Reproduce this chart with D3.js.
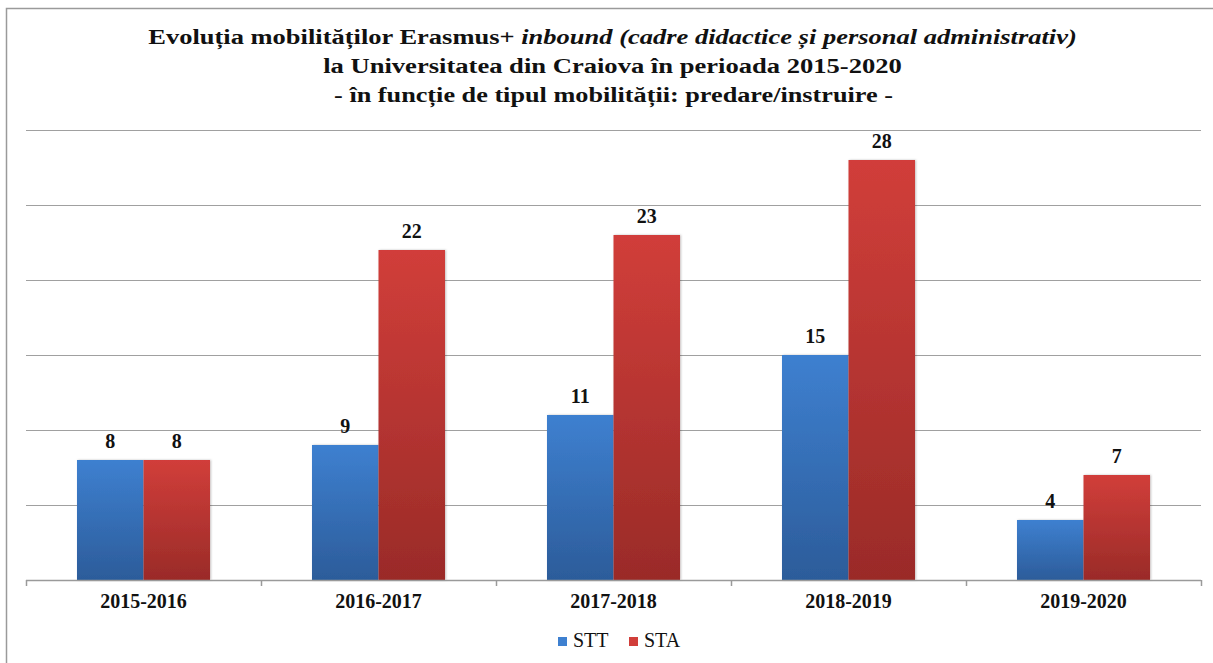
<!DOCTYPE html>
<html>
<head>
<meta charset="utf-8">
<script src="https://cdn.jsdelivr.net/npm/d3@7"></script>
<style>
  body { margin: 0; background: #fff; }
  .main { width: 1213px; height: 663px; }
  svg text { font-family: "Liberation Serif", "Times New Roman", "DejaVu Serif", serif; }
</style>
</head>
<body>
<div class="main"></div>
<script>
// data
const years = ["2015-2016", "2016-2017", "2017-2018", "2018-2019", "2019-2020"]
const series = ["STT", "STA"]
const stt = [8, 9, 11, 15, 4]
const sta = [8, 22, 23, 28, 7]
const yTicks = [0, 5, 10, 15, 20, 25, 30]

const W = 1213, H = 663
const margin = { top: 130, right: 12, bottom: 83, left: 26 }
const width = W - margin.left - margin.right,
    height = H - margin.top - margin.bottom;

const svg = d3.select(".main")
    .append("svg")
    .attr("width", W)
    .attr("height", H)

// gradients for the bars (lighter on top, darker at bottom)
const defs = svg.append("defs")
const grads = { STT: ["#3e80d0", "#2c5c9a"], STA: ["#d13e3a", "#9a2b28"] }
for (let k of series) {
    const g = defs.append("linearGradient")
        .attr("id", "grad-" + k)
        .attr("x1", 0).attr("y1", 0).attr("x2", 0).attr("y2", 1)
    g.append("stop").attr("offset", "0%").attr("stop-color", grads[k][0])
    g.append("stop").attr("offset", "100%").attr("stop-color", grads[k][1])
}
const f = defs.append("filter").attr("id", "shadow").attr("x", "-10%").attr("y", "-10%").attr("width", "130%").attr("height", "130%")
f.append("feDropShadow").attr("dx", 1).attr("dy", 0).attr("stdDeviation", 1).attr("flood-color", "#000").attr("flood-opacity", 0.25)

// frame
svg.append("path")
    .attr("d", `M6.5,${H} V8.5 H${W}`)
    .attr("fill", "none")
    .attr("stroke", "#9a9a9a")
    .attr("stroke-width", 1.5)

// title: three lines, each stretched to the width seen in the reference
const titleLines = [
    { cx: 612.5, y: 44, w: 929 },
    { cx: 612.5, y: 73, w: 579 },
    { cx: 613.5, y: 102, w: 559 }
]
const tl = svg.selectAll(".title")
    .data(titleLines)
    .join("text")
    .attr("class", "title")
    .attr("x", 0)
    .attr("y", 0)
    .attr("text-anchor", "middle")
    .attr("font-weight", "bold")
    .attr("font-size", 22)
    .attr("fill", "#111")
tl.each(function (d, i) {
    const t = d3.select(this)
    if (i === 0) {
        t.append("tspan").text("Evoluția mobilităților Erasmus+ ")
        t.append("tspan").attr("font-style", "italic").text("inbound (cadre didactice și personal administrativ)")
    } else if (i === 1) {
        t.text("la Universitatea din Craiova în perioada 2015-2020")
    } else {
        t.text("- în funcție de tipul mobilității:  predare/instruire -")
    }
    const bw = this.getBBox().width
    t.attr("transform", `translate(${d.cx}, ${d.y}) scale(${d.w / bw}, 1)`)
})

const g = svg.append("g")
    .attr("transform", `translate(${margin.left}, ${margin.top})`)

const x = d3.scaleBand()
    .domain(years)
    .range([0, width])
    .paddingInner(0)
    .paddingOuter(0)

const xs = d3.scaleBand()
    .domain(series)
    .range([x.bandwidth() * 0.217, x.bandwidth() * 0.783])

const y = d3.scaleLinear()
    .domain([0, 30])
    .range([height, 0])

// gridlines
g.append("g")
    .selectAll("line")
    .data(yTicks.slice(1))
    .join("line")
    .attr("x1", 0)
    .attr("x2", width)
    .attr("y1", d => Math.round(y(d)) + 0.5)
    .attr("y2", d => Math.round(y(d)) + 0.5)
    .attr("stroke", "#a0a0a0")
    .attr("stroke-width", 1.2)

const rows = years.map((yr, i) => ({ year: yr, STT: stt[i], STA: sta[i] }))

const groups = g.selectAll(".grp")
    .data(rows)
    .join("g")
    .attr("class", "grp")
    .attr("transform", d => `translate(${x(d.year)}, 0)`)

groups.selectAll("rect")
    .data(d => series.map(k => ({ key: k, value: d[k] })))
    .join("rect")
    .attr("x", d => xs(d.key))
    .attr("y", d => y(d.value))
    .attr("width", xs.bandwidth())
    .attr("height", d => height - y(d.value))
    .attr("fill", d => `url(#grad-${d.key})`)
    .attr("filter", "url(#shadow)")

groups.selectAll(".lbl")
    .data(d => series.map(k => ({ key: k, value: d[k] })))
    .join("text")
    .attr("class", "lbl")
    .attr("x", d => xs(d.key) + xs.bandwidth() / 2)
    .attr("y", d => y(d.value) - 12)
    .attr("text-anchor", "middle")
    .attr("font-weight", "bold")
    .attr("font-size", 20)
    .attr("fill", "#111")
    .text(d => d.value)

// x axis
const xAxis = g.append("g")
    .attr("transform", `translate(0, ${height})`)
xAxis.append("line")
    .attr("x1", 0).attr("x2", width)
    .attr("y1", 0.5).attr("y2", 0.5)
    .attr("stroke", "#9a9a9a")
    .attr("stroke-width", 1.5)
xAxis.selectAll(".tick")
    .data(years.concat(["end"]))
    .join("line")
    .attr("class", "tick")
    .attr("x1", (d, i) => Math.round(i * x.step()) + 0.5)
    .attr("x2", (d, i) => Math.round(i * x.step()) + 0.5)
    .attr("y1", 0).attr("y2", 6)
    .attr("stroke", "#9a9a9a")
    .attr("stroke-width", 1.5)
xAxis.selectAll(".cat")
    .data(years)
    .join("text")
    .attr("class", "cat")
    .attr("x", d => x(d) + x.bandwidth() / 2)
    .attr("y", 28)
    .attr("text-anchor", "middle")
    .attr("font-weight", "bold")
    .attr("font-size", 20)
    .attr("fill", "#111")
    .text(d => d)

// legend
const legend = svg.append("g")
    .attr("transform", `translate(558, 647)`)
const legendX = [0, 71]
const items = legend.selectAll("g")
    .data(series)
    .join("g")
    .attr("transform", (d, i) => `translate(${legendX[i]}, 0)`)
items.append("rect")
    .attr("x", 0).attr("y", -10)
    .attr("width", 9).attr("height", 9)
    .attr("fill", d => grads[d][0])
items.append("text")
    .attr("x", 15)
    .attr("y", 0)
    .attr("font-size", 20)
    .attr("fill", "#111")
    .text(d => d)
</script>
</body>
</html>
